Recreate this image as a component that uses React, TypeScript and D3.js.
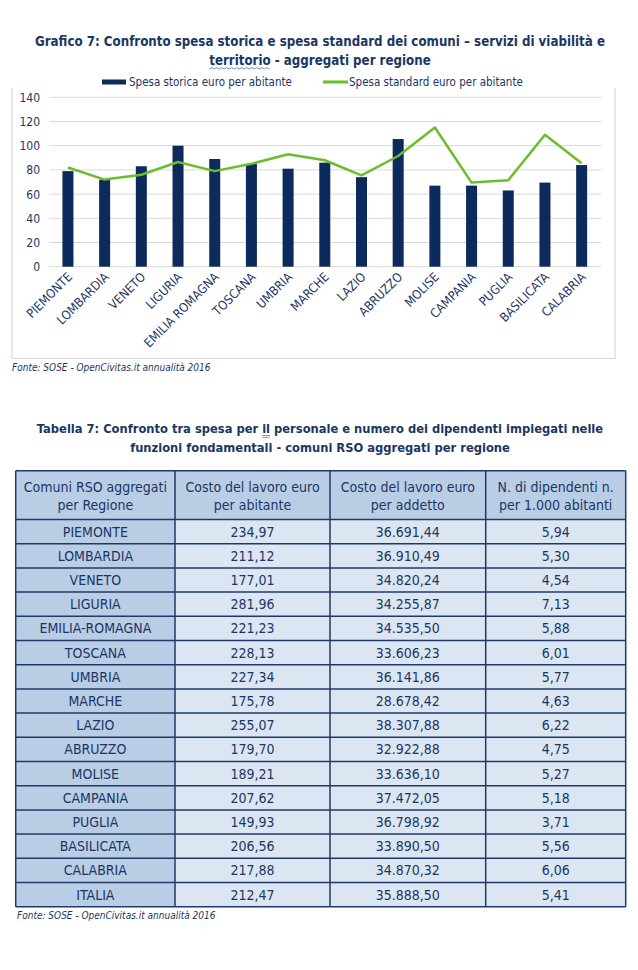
import React, { useLayoutEffect, useRef, useState } from "react";
import * as d3 from "d3";

const regions = ["PIEMONTE","LOMBARDIA","VENETO","LIGURIA","EMILIA ROMAGNA","TOSCANA","UMBRIA","MARCHE","LAZIO","ABRUZZO","MOLISE","CAMPANIA","PUGLIA","BASILICATA","CALABRIA"];
const spesaStorica = [79,72,83,100,89,85,81,86,74,105.5,67,67,63,69.5,84];
const spesaStandard = [82,72,76,86.5,79,85,93,88,75.5,91.5,115,69.5,71.5,109,85.5];
const yTicks = [0,20,40,60,80,100,120,140];

const tableRegions = ["PIEMONTE","LOMBARDIA","VENETO","LIGURIA","EMILIA-ROMAGNA","TOSCANA","UMBRIA","MARCHE","LAZIO","ABRUZZO","MOLISE","CAMPANIA","PUGLIA","BASILICATA","CALABRIA","ITALIA"];
const costoAbitante = ["234,97","211,12","177,01","281,96","221,23","228,13","227,34","175,78","255,07","179,70","189,21","207,62","149,93","206,56","217,88","212,47"];
const costoAddetto = ["36.691,44","36.910,49","34.820,24","34.255,87","34.535,50","33.606,23","36.141,86","28.678,42","38.307,88","32.922,88","33.636,10","37.472,05","36.798,92","33.890,50","34.870,32","35.888,50"];
const dipendenti = ["5,94","5,30","4,54","7,13","5,88","6,01","5,77","4,63","6,22","4,75","5,27","5,18","3,71","5,56","6,06","5,41"];
const headers = [["Comuni RSO aggregati","per Regione"],["Costo del lavoro euro","per abitante"],["Costo del lavoro euro","per addetto"],["N. di dipendenti n.","per 1.000 abitanti"]];

const FONT = "'DejaVu Sans Condensed', 'DejaVu Sans', sans-serif";
const NAVY = "#1b3664";
const BAR = "#0c2a5b";
const GREEN = "#6cbd2c";

const TITLE2 = "territorio - aggregati per regione";
const TAB1 = "Tabella 7: Confronto tra spesa per il personale e numero dei dipendenti impiegati nelle";

export default function App() {
  const x = d3.scaleBand().domain(regions).range([49.6, 600]).paddingInner(0.7).paddingOuter(0.35);
  const xc = (r: string) => (x(r) as number) + x.bandwidth() / 2;
  const y = d3.scaleLinear().domain([0, 140]).range([266.7, 97.3]);
  const line = d3.line<number>().x((_, i) => xc(regions[i])).y(d => y(d));

  const colX = [15.7, 175, 330, 485.7, 625.7];
  const headTop = 470.7, headBot = 519.5, rowH = 24.2;
  const rowY = d3.scaleLinear().domain([0, 1]).range([headBot, headBot + rowH]);
  const tableBottom = rowY(tableRegions.length);
  const cols = [tableRegions, costoAbitante, costoAddetto, dipendenti];

  const t2Ref = useRef<SVGTextElement>(null);
  const tabRef = useRef<SVGTextElement>(null);
  const [wavePos, setWavePos] = useState<[number, number]>([212, 287]);
  const [ilPos, setIlPos] = useState<[number, number] | null>(null);
  useLayoutEffect(() => {
    try {
      const t = t2Ref.current;
      if (t) setWavePos([t.getStartPositionOfChar(0).x, t.getEndPositionOfChar(9).x]);
      const tb = tabRef.current;
      if (tb) {
        const idx = TAB1.indexOf(" il ") + 1;
        setIlPos([tb.getStartPositionOfChar(idx).x, tb.getEndPositionOfChar(idx + 1).x]);
      }
    } catch (e) {}
  }, []);
  const wave = d3.range(wavePos[0], wavePos[1], 2.5).map((px, i) => `${i === 0 ? "M" : "L"}${px},${i % 2 ? 67.6 : 69}`).join(" ");

  return (
    <svg width={638} height={970} style={{ position: "absolute", left: 0, top: 0, background: "#fff" }} fontFamily={FONT}>
      {/* chart title */}
      <text x={320} y={46} textAnchor="middle" fontSize={13.2} fontWeight="bold" fill={NAVY}>Grafico 7: Confronto spesa storica e spesa standard dei comuni – servizi di viabilità e</text>
      <text ref={t2Ref} x={320} y={65} textAnchor="middle" fontSize={13.2} fontWeight="bold" fill={NAVY}>{TITLE2}</text>
      <path d={wave} fill="none" stroke="#4a6fd0" strokeWidth={0.8} />
      {/* frame */}
      <path d="M12,88 V358.5 H615 V88" fill="none" stroke="#d9d9d9" strokeWidth={1.2} />
      {/* legend */}
      <rect x={102} y={79.5} width={24} height={5} fill={BAR} />
      <text x={129} y={86} fontSize={11.5} fill={NAVY}>Spesa storica euro per abitante</text>
      <rect x={323} y={80.5} width={25} height={3} fill={GREEN} />
      <text x={349} y={86} fontSize={11.5} fill={NAVY}>Spesa standard euro per abitante</text>
      {/* grid + y axis */}
      {yTicks.map(t => (
        <g key={t}>
          <line x1={49.3} x2={601.5} y1={y(t)} y2={y(t)} stroke="#d9d9d9" strokeWidth={1} />
          <text x={40} y={y(t) + 4.5} textAnchor="end" fontSize={12} fill={NAVY}>{t}</text>
        </g>
      ))}
      {/* bars */}
      {regions.map((r, i) => (
        <rect key={r} x={x(r)} y={y(spesaStorica[i])} width={x.bandwidth()} height={y(0) - y(spesaStorica[i])} fill={BAR} />
      ))}
      <path d={line(spesaStandard) as string} fill="none" stroke={GREEN} strokeWidth={2.5} strokeLinejoin="round" />
      {/* x labels */}
      {regions.map(r => (
        <text key={r} transform={`translate(${xc(r) + 5},${y(0) + 11}) rotate(-45)`} textAnchor="end" fontSize={12.5} fill={NAVY}>{r}</text>
      ))}
      <text x={12} y={371} fontSize={10} fontStyle="italic" fill={NAVY}>Fonte: SOSE - OpenCivitas.it annualità 2016</text>

      {/* table title */}
      <text ref={tabRef} x={320} y={433} textAnchor="middle" fontSize={12.8} fontWeight="bold" fill={NAVY}>{TAB1}</text>
      {ilPos && (
        <g stroke="#4a6fd0" strokeWidth={0.7}>
          <line x1={ilPos[0]} x2={ilPos[1]} y1={435.5} y2={435.5} />
          <line x1={ilPos[0]} x2={ilPos[1]} y1={437.3} y2={437.3} />
        </g>
      )}
      <text x={320} y={452} textAnchor="middle" fontSize={12.8} fontWeight="bold" fill={NAVY}>funzioni fondamentali - comuni RSO aggregati per regione</text>

      {/* table */}
      <rect x={colX[0]} y={headTop} width={colX[4] - colX[0]} height={headBot - headTop} fill="#b9cde5" />
      <rect x={colX[0]} y={headBot} width={colX[1] - colX[0]} height={tableBottom - headBot} fill="#b9cde5" />
      <rect x={colX[1]} y={headBot} width={colX[4] - colX[1]} height={tableBottom - headBot} fill="#dce6f2" />
      {headers.map((h, c) => (
        <text key={c} x={(colX[c] + colX[c + 1]) / 2} textAnchor="middle" fontSize={14} fill={NAVY}>
          <tspan x={(colX[c] + colX[c + 1]) / 2} y={492}>{h[0]}</tspan>
          <tspan x={(colX[c] + colX[c + 1]) / 2} y={510}>{h[1]}</tspan>
        </text>
      ))}
      {tableRegions.map((_, i) => (
        <g key={i}>
          {cols.map((col, c) => (
            <text key={c} x={(colX[c] + colX[c + 1]) / 2} y={rowY(i) + 17} textAnchor="middle" fontSize={14} fill={NAVY}>{col[i]}</text>
          ))}
        </g>
      ))}
      {d3.range(tableRegions.length + 1).map(i => (
        <line key={"h" + i} x1={colX[0]} x2={colX[4]} y1={rowY(i)} y2={rowY(i)} stroke="#1f3a6a" strokeWidth={1.5} />
      ))}
      <line x1={colX[0]} x2={colX[4]} y1={headTop} y2={headTop} stroke="#1f3a6a" strokeWidth={1.5} />
      {colX.map((cx, i) => (
        <line key={"v" + i} x1={cx} x2={cx} y1={headTop} y2={tableBottom} stroke="#1f3a6a" strokeWidth={1.5} />
      ))}
      <text x={17} y={919} fontSize={10} fontStyle="italic" fill={NAVY}>Fonte: SOSE - OpenCivitas.it annualità 2016</text>
    </svg>
  );
}
